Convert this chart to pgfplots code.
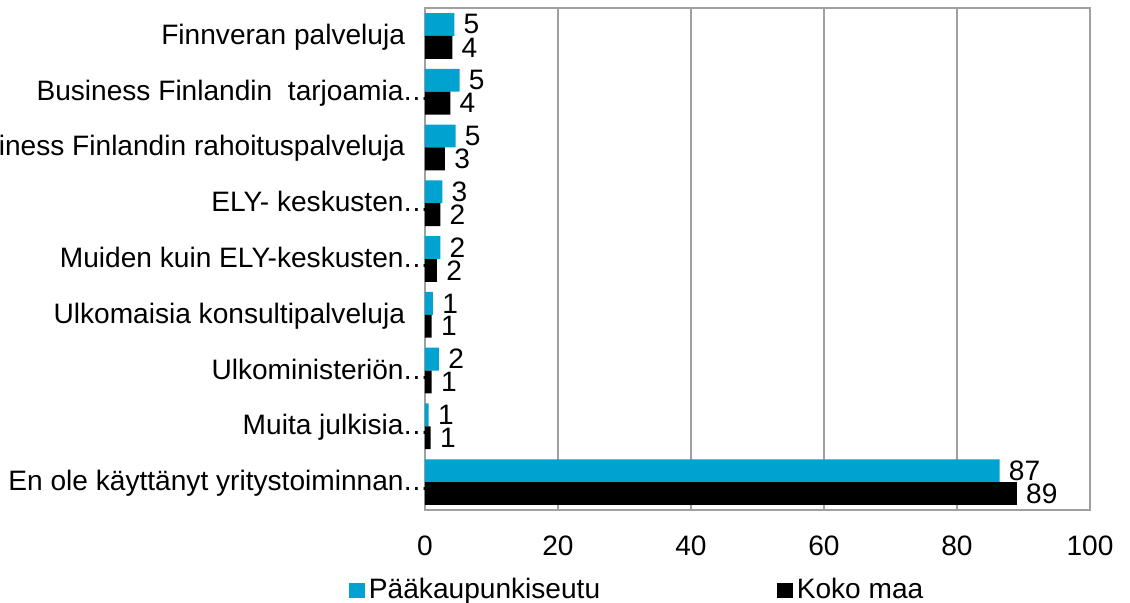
\documentclass[border=0pt]{standalone}
\usepackage{pgfplots}
\pgfplotsset{compat=1.18}
\usepackage{pgfplotstable}
\usepackage{fontspec}
\setmainfont{Liberation Sans}
\definecolor{cyanbar}{RGB}{0,163,208}
\definecolor{gridgray}{RGB}{160,160,160}
\newcommand{\ellip}{\rlap{\kern0.2pt.\kern0.4pt.\kern0.4pt.}}
\pgfplotstableread{
y p pl k kl
8 4.4 5 4.1 4
7 5.2 5 3.8 4
6 4.6 5 3.0 3
5 2.6 3 2.3 2
4 2.3 2 1.8 2
3 1.2 1 1.0 1
2 2.1 2 1.0 1
1 0.55 1 0.85 1
0 86.4 87 89.0 89
}\datatable
\begin{document}
\fontsize{14.05}{16}\selectfont
\begin{tikzpicture}
\begin{axis}[
  scale only axis,
  width=332.5pt, height=251pt,
  xbar,
  xmin=0, xmax=100,
  ymin=-0.5, ymax=8.5,
  xtick={0,20,40,60,80,100},
  ytick={0,1,2,3,4,5,6,7,8},
  yticklabels={
    En ole käyttänyt yritystoiminnan\ellip,
    Muita julkisia\ellip,
    Ulkoministeriön\ellip,
    Ulkomaisia konsultipalveluja\kern-0.7pt,
    Muiden kuin ELY-keskusten\ellip,
    ELY- keskusten\ellip,
    Business Finlandin rahoituspalveluja\kern-0.7pt,
    Business Finlandin~ tarjoamia\ellip,
    Finnveran palveluja\kern-0.7pt},
  major tick length=0pt,
  xmajorgrids,
  grid style={gridgray, line width=0.6pt},
  axis line style={gridgray, line width=0.6pt},
  tick label style={font=\fontsize{14.05}{16}\selectfont},
  /pgf/number format/assume math mode=true,
  xticklabel style={inner sep=0pt, anchor=north, yshift=-12.5pt},
  yticklabel style={inner sep=0pt, anchor=base east, xshift=-10.5pt, yshift=-4.25pt},
  bar width=0.41,
  point meta=explicit symbolic,
  nodes near coords,
  nodes near coords style={font=\fontsize{14.05}{16}\selectfont, black, anchor=west, inner sep=4.5pt},
  legend columns=2,
  legend image code/.code={\fill[#1] (0pt,-3.5pt) rectangle (7.8pt,4pt);},
  legend style={at={(axis description cs:0,0)}, anchor=north west,
    xshift=-41pt, yshift=-30pt, draw=none, fill=none,
    font=\fontsize{14.05}{16}\selectfont,
    /tikz/every even column/.append style={column sep=86.5pt}},
]
\addplot[fill=cyanbar, draw=none, bar shift=0.205] table[x=p, y=y, meta=pl] {\datatable};
\addplot[fill=black, draw=none, bar shift=-0.205] table[x=k, y=y, meta=kl] {\datatable};
\legend{Pääkaupunkiseutu, Koko maa}
\end{axis}
\pgfresetboundingbox
\useasboundingbox (-212.5pt,-46pt) rectangle (352.5pt,255pt);
\end{tikzpicture}
\end{document}
